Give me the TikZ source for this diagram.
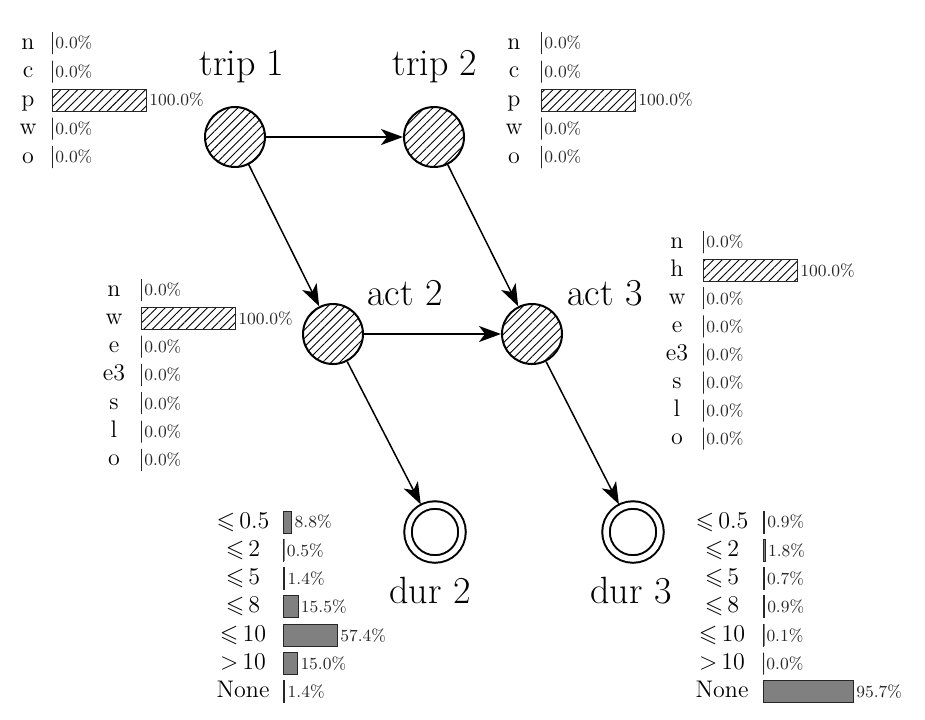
\documentclass[tikz,border=0pt]{standalone}
\usepackage{amssymb}
\usetikzlibrary{positioning,arrows.meta,patterns.meta}

\begin{document}
\begin{tikzpicture}[
  x=0.5pt, y=-0.5pt,
  hatch/.style={pattern={Lines[angle=45, distance=3pt, line width=0.45pt]}},
  hstate/.style={circle, draw, line width=1pt, hatch, minimum size=30pt, inner sep=0pt},
  endstate/.style={circle, draw, line width=1pt, double, double distance=2.75pt,
                   minimum size=27pt, inner sep=0pt, outer sep=2pt},
  statelab/.style={font=\fontsize{19}{22}\selectfont, anchor=base, inner sep=0pt},
  rowlab/.style={font=\fontsize{12}{14}\selectfont, text height=8pt, text depth=2pt, inner sep=0pt},
  bar/.style={draw=black!85, line width=0.5pt, anchor=west, minimum height=11pt, inner sep=0pt},
  pbar/.style={bar, hatch},
  gbar/.style={bar, fill=black!50},
  pct/.style={font=\fontsize{8.5}{10}\selectfont, text=black!85, inner sep=0.5pt},
  arr/.style={-{Stealth[length=11pt, width=8pt, inset=3pt]}, line width=0.75pt}]

\useasboundingbox (0,0) rectangle (925,719);

% states
\node[hstate] (trip1) at (235,137) {};
\node[hstate] (trip2) at (434,137) {};
\node[hstate] (act2) at (333,334) {};
\node[hstate] (act3) at (532,334) {};
\node[endstate] (dur2) at (435,532) {};
\node[endstate] (dur3) at (633,532) {};

\node[statelab] (trip1lab) at (242,75) {trip 1};
\node[statelab] (trip2lab) at (435,75) {trip 2};
\node[statelab] (act2lab) at (405,305) {act 2};
\node[statelab] (act3lab) at (605,305) {act 3};
\node[statelab] (dur2lab) at (430,603) {dur 2};
\node[statelab] (dur3lab) at (631,603) {dur 3};

\foreach \a/\b in {trip1/trip2, trip1/act2, trip2/act3, act2/act3, act2/dur2, act3/dur3}
  \draw[arr] (\a) -- (\b);

% distributions
\foreach \lab/\v [count=\i from 0, evaluate=\v as \w using \v*0.47] in
    {n/0.0, c/0.0, p/100.0, w/0.0, o/0.0} {
  \node[rowlab] (t1r\i) at (28,43+28.5*\i) {\lab};
  \node[pbar, minimum width=\w pt] (t1b\i) at (52,43+28.5*\i) {};
  \node[pct, right=0.5pt of t1b\i] (t1p\i) {\v\%};
}

\foreach \lab/\v [count=\i from 0, evaluate=\v as \w using \v*0.47] in
    {n/0.0, c/0.0, p/100.0, w/0.0, o/0.0} {
  \node[rowlab] (t2r\i) at (514,43+28.5*\i) {\lab};
  \node[pbar, minimum width=\w pt] (t2b\i) at (541,43+28.5*\i) {};
  \node[pct, right=0.5pt of t2b\i] (t2p\i) {\v\%};
}

\foreach \lab/\v [count=\i from 0, evaluate=\v as \w using \v*0.47] in
    {n/0.0, w/100.0, e/0.0, e3/0.0, s/0.0, l/0.0, o/0.0} {
  \node[rowlab] (a2r\i) at (114,290+28.3*\i) {\lab};
  \node[pbar, minimum width=\w pt] (a2b\i) at (141,290+28.3*\i) {};
  \node[pct, right=0.5pt of a2b\i] (a2p\i) {\v\%};
}

\foreach \lab/\v [count=\i from 0, evaluate=\v as \w using \v*0.47] in
    {n/0.0, h/100.0, w/0.0, e/0.0, e3/0.0, s/0.0, l/0.0, o/0.0} {
  \node[rowlab] (a3r\i) at (677,242+28.1*\i) {\lab};
  \node[pbar, minimum width=\w pt] (a3b\i) at (703,242+28.1*\i) {};
  \node[pct, right=0.5pt of a3b\i] (a3p\i) {\v\%};
}

\foreach \lab/\v [count=\i from 0, evaluate=\v as \w using \v*0.47] in
    {{$\leqslant$\,0.5}/8.8, {$\leqslant$\,2}/0.5, {$\leqslant$\,5}/1.4, {$\leqslant$\,8}/15.5,
     {$\leqslant$\,10}/57.4, {$>$\,10}/15.0, None/1.4} {
  \node[rowlab] (d2r\i) at (243,522+28.3*\i) {\lab};
  \node[gbar, minimum width=\w pt] (d2b\i) at (283,522+28.3*\i) {};
  \node[pct, right=0.5pt of d2b\i] (d2p\i) {\v\%};
}

\foreach \lab/\v [count=\i from 0, evaluate=\v as \w using \v*0.47] in
    {{$\leqslant$\,0.5}/0.9, {$\leqslant$\,2}/1.8, {$\leqslant$\,5}/0.7, {$\leqslant$\,8}/0.9,
     {$\leqslant$\,10}/0.1, {$>$\,10}/0.0, None/95.7} {
  \node[rowlab] (d3r\i) at (722,522+28.3*\i) {\lab};
  \node[gbar, minimum width=\w pt] (d3b\i) at (763,522+28.3*\i) {};
  \node[pct, right=0.5pt of d3b\i] (d3p\i) {\v\%};
}
\end{tikzpicture}
\end{document}
